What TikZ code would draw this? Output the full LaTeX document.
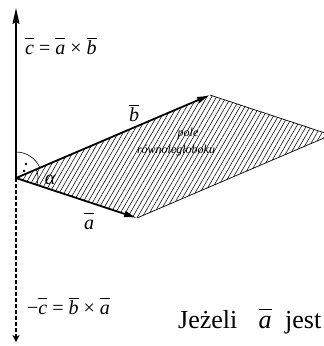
\documentclass[tikz,border=0pt]{standalone}
\usepackage{fontspec}
\setmainfont{Liberation Serif}
\usetikzlibrary{patterns.meta,arrows.meta}
\newcommand\vbr[1]{$\overline{\mbox{\itshape #1}\vphantom{b}}$}
\begin{document}
\begin{tikzpicture}[x=1pt,y=-1pt,
  vec/.style={line width=1.8pt,-{Latex[length=13pt,width=7pt]}},
  axis/.style={line width=1.8pt,-{Stealth[length=16pt,width=7pt,inset=2pt]}},
  negaxis/.style={line width=2.2pt,dash pattern=on 4pt off 2pt,-{Stealth[length=7pt,width=7pt,inset=2pt]}},
  edge/.style={line width=0.7pt},
  thin arc/.style={line width=0.6pt},
  lbl/.style={font=\fontsize{20}{22}\selectfont, inner sep=0pt},
  small/.style={font=\fontsize{12}{13}\selectfont\itshape, inner sep=0pt},
  big/.style={font=\fontsize{26}{28}\selectfont, inner sep=0pt},
  hatch/.style={pattern={Lines[angle=60,distance=4.2pt,line width=0.55pt]}}]
\useasboundingbox (0,0) rectangle (324,346);
\clip (0,0) rectangle (324,346);
\coordinate (O) at (16,178);
\coordinate (A) at (137,218);
\coordinate (B) at (210,95);
\coordinate (D) at (331,135);
\coordinate (C) at (16,8);
\coordinate (Cm) at (16,342);
\fill[hatch] (O)--(A)--(D)--(B)--cycle;
\draw[edge] (A)--(D)--(B);
\draw[vec] (O)--(A);
\draw[vec] (O)--(B);
\draw[axis] (O)--(C);
\draw[negaxis] (O)--(Cm);
% right angle marker
\draw[thin arc] (O) ++(0,-26) arc[start angle=-90,end angle=-23.2,radius=26];
\fill (26,164) circle (1.3pt);
\fill (24,171) circle (1.3pt);
% alpha arc
\draw[thin arc] (O) ++(-23.2:22) arc[start angle=-23.2,end angle=18.3,radius=22];
\node[lbl] (alpha) at (50,180) {\itshape α};
% labels
\node[lbl,anchor=base west] (lc) at (25,54) {\vbr{c} = \vbr{a} × \vbr{b}};
\node[lbl,anchor=base] (lb) at (134,121) {\vbr{b}};
\node[lbl,anchor=base] (la) at (89,229) {\vbr{a}};
\node[lbl,anchor=base west] (lmc) at (27,314) {−\vbr{c} = \vbr{b} × \vbr{a}};
\node[small] (pole) at (188,134) {pole};
\node[small] (rown) at (176,151) {równoległoboku};
\node[big,anchor=base west] (t1) at (178,328) {Jeżeli};
\node[big,anchor=base] (t2) at (265,328) {\vbr{a}};
\node[big,anchor=base west] (t3) at (285,328) {jest};
\end{tikzpicture}
\end{document}
